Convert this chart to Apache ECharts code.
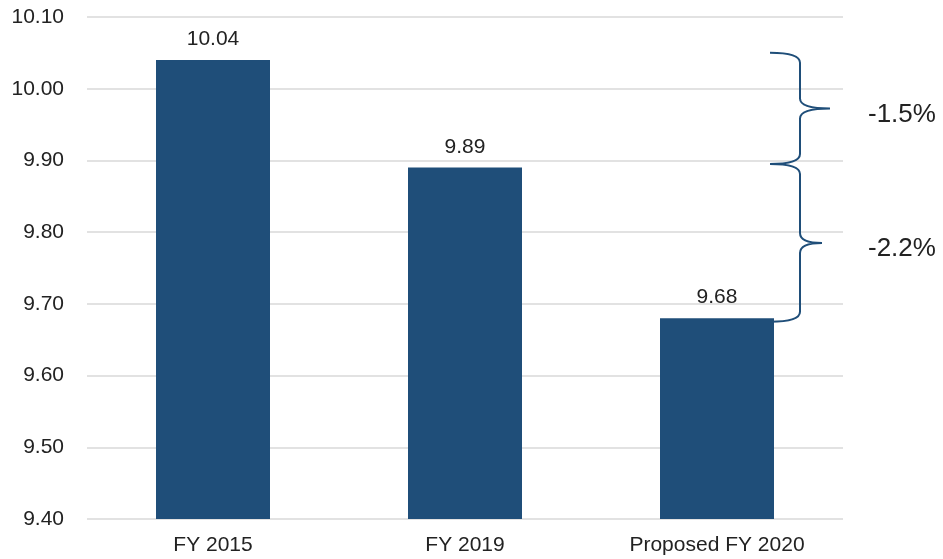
<!DOCTYPE html>
<html>
<head>
<meta charset="utf-8">
<script src="https://cdn.jsdelivr.net/npm/echarts@6/dist/echarts.min.js"></script>
<style>html,body{margin:0;padding:0;background:#fff}#c{width:943px;height:559px}</style>
</head>
<body>
<div id="c"></div>
<script>
const categories = ['FY 2015', 'FY 2019', 'Proposed FY 2020'];
const values = [10.04, 9.89, 9.68];
const braceStart = [10.05, 9.895];
const braceEnd = [9.895, 9.675];
const braceLabels = ['-1.5%', '-2.2%'];

const BAR = '#1f4e79';
const chart = echarts.init(document.getElementById('c'));

function bracePath(xTip, xSpine, xPoint, y1, y2, r) {
  const ym = (y1 + y2) / 2;
  return 'M' + xTip + ' ' + y1 +
    ' Q' + xSpine + ' ' + y1 + ' ' + xSpine + ' ' + (y1 + r) +
    ' L' + xSpine + ' ' + (ym - r) +
    ' Q' + xSpine + ' ' + ym + ' ' + xPoint + ' ' + ym +
    ' Q' + xSpine + ' ' + ym + ' ' + xSpine + ' ' + (ym + r) +
    ' L' + xSpine + ' ' + (y2 - r) +
    ' Q' + xSpine + ' ' + y2 + ' ' + xTip + ' ' + y2;
}

chart.setOption({
  animation: false,
  textStyle: { fontFamily: 'Liberation Sans, Arial, sans-serif' },
  grid: { left: 87, right: 100, top: 17, bottom: 40 },
  xAxis: {
    type: 'category',
    data: categories,
    axisLine: { show: false },
    axisTick: { show: false },
    axisLabel: { color: '#222', fontSize: 21, margin: 16 }
  },
  yAxis: {
    type: 'value',
    min: 9.4,
    max: 10.1,
    interval: 0.1,
    axisLine: { show: false },
    axisTick: { show: false },
    splitLine: { lineStyle: { color: '#d9d9d9', width: 1.5 } },
    axisLabel: { color: '#222', fontSize: 21, margin: 23, formatter: v => v.toFixed(2) }
  },
  series: [
    {
      type: 'bar',
      data: values,
      barWidth: 114,
      itemStyle: { color: BAR },
      label: { show: true, position: 'top', distance: 10, color: '#222', fontSize: 21, formatter: p => p.value.toFixed(2) }
    },
    {
      type: 'custom',
      clip: false,
      silent: true,
      data: braceStart.map((s, i) => [i, s, braceEnd[i]]),
      encode: { x: 0, y: [1, 2] },
      renderItem: function (params, api) {
        const cs = params.coordSys;
        const right = cs.x + cs.width;
        const y1 = api.coord([0, api.value(1)])[1];
        const y2 = api.coord([0, api.value(2)])[1];
        const xTip = right - 73;
        const xSpine = right - 43;
        const xPoint = params.dataIndex === 0 ? right - 13 : right - 21;
        const ym = (y1 + y2) / 2;
        return {
          type: 'group',
          children: [
            {
              type: 'path',
              shape: { pathData: bracePath(xTip, xSpine, xPoint, y1, y2, 10) },
              style: { fill: null, stroke: BAR, lineWidth: 2 }
            },
            {
              type: 'text',
              style: {
                x: right + 25, y: ym + 6,
                text: braceLabels[params.dataIndex],
                fill: '#222',
                font: '26px "Liberation Sans", Arial, sans-serif',
                verticalAlign: 'middle', align: 'left'
              }
            }
          ]
        };
      }
    }
  ]
});
</script>
</body>
</html>
